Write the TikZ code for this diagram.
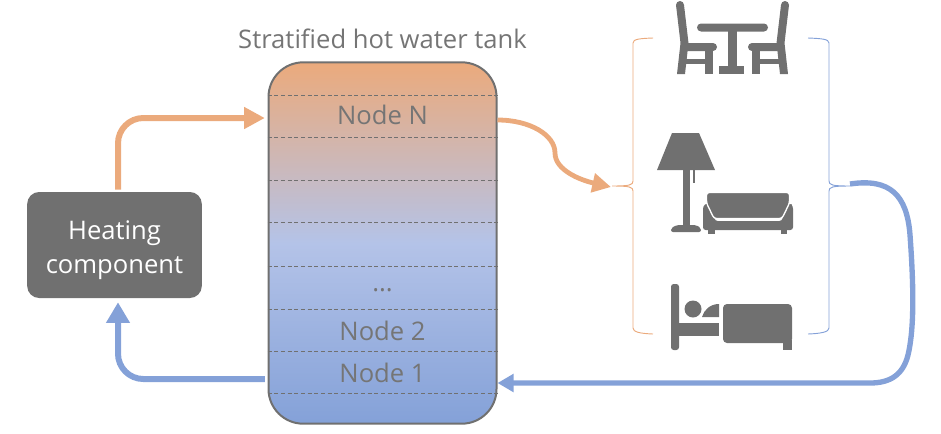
\documentclass[tikz,border=0pt]{standalone}
\usepackage{fontspec}
\setmainfont{Open Sans}
\usepackage{xcolor}
\usetikzlibrary{shapes, arrows, arrows.meta, calc}
\definecolor{hotcol}{HTML}{EBAA7C}
\definecolor{coldcol}{HTML}{84A1D8}
\definecolor{midcol}{HTML}{B4C3E8}
\definecolor{iconcol}{HTML}{707070}
\definecolor{textcol}{HTML}{757575}
\tikzstyle{heaterbox} = [rectangle, fill=iconcol, text=white, rounded corners=9pt,
    minimum width=131pt, minimum height=79.5pt, align=center, font=\fontsize{19.2}{26}\selectfont]
\tikzstyle{tankbox} = [rectangle, draw=iconcol, line width=1.5pt, rounded corners=26pt,
    minimum width=171pt, minimum height=271pt, top color=hotcol, bottom color=coldcol,
    middle color=midcol]
\tikzstyle{tanktext} = [text=textcol, font=\fontsize{19.2}{22}\selectfont]
\tikzstyle{layerline} = [draw=iconcol, densely dashed, line width=0.4pt]
\tikzstyle{hotline} = [draw=hotcol, line width=4.5pt, rounded corners=19pt]
\tikzstyle{coldline} = [draw=coldcol, line width=4.5pt, rounded corners=19pt]
\tikzstyle{icon} = [fill=iconcol, draw=none]

\begin{document}
\begin{tikzpicture}[x=0.75pt, y=-0.75pt, node distance = 31.5pt]
    \useasboundingbox (0,0) rectangle (941,433);

    \node [heaterbox, text depth=0pt] (heater) at (114.5,245) {\raisebox{-3pt}{Heating}\\\raisebox{-3pt}{component}};
    \node [tankbox] (tank) at (382.5,243) {};
    \node [tanktext, above of=tank, node distance=153.5pt] (title) {Stratified hot water tank};

    \foreach \y in {95,137,180,222,266,309,351,393}
        \draw[layerline] (tank.west |- 0,\y) -- (tank.east |- 0,\y);

    \node [tanktext] (node1) at (382.5,373) {Node 1};
    \node [tanktext, above of=node1] (node2) {Node 2};
    \node [tanktext, above of=node2, yshift=-1pt] (dots) {...};
    \node [tanktext] (nodeN) at (382.5,115) {Node N};

    % room icons
    \fill[icon, rounded corners=3pt] (697,23.5) rectangle (768,31.5);
    \fill[icon] (728,27) rectangle (737,68);
    \fill[icon] (719,66) rectangle (744,74);
    \foreach \sx/\ox in {1/0,-1/1465} {
        \begin{scope}[xshift=\ox*0.75pt, xscale=\sx]
            \fill[icon] (680,5) circle (4);
            \fill[icon] (676,5) -- (684,5) -- (688.5,43) -- (685,74) -- (677,74) -- (680.5,43) -- cycle;
            \fill[icon] (686,59) rectangle (705,64);
            \fill[icon] (705,47) rectangle (713,74);
            \fill[icon, rounded corners=3pt] (684,43) rectangle (717,51);
        \end{scope}
    }

    \fill[icon] (672,133) -- (699,133) -- (715,170) -- (657,170) -- cycle;
    \fill[icon] (683,170) rectangle (690,227);
    \fill[icon] (693,170) rectangle (695,183);
    \fill[icon, rounded corners=1.5pt] (671,232) -- (671,228) -- (677,225) -- (696,225) -- (701,228) -- (701,232) -- cycle;

    \fill[icon, rounded corners=2pt] (703,230) -- (703,206) -- (707,203) -- (712,206) -- (715,221) -- (782,221) -- (785,206) -- (790,203) -- (793,206) -- (793,230) -- cycle;
    \filldraw[icon, draw=white, line width=1pt, rounded corners=2pt] (706.5,192.5) -- (789.5,192.5) -- (789.5,203) -- (782,218.5) -- (714,218.5) -- (706.5,203) -- cycle;
    \fill[icon] (708,229) rectangle (715,234);
    \fill[icon] (781,229) rectangle (787,234);

    \fill[icon, rounded corners=2pt] (671,350) -- (671,284) -- (679,284) -- (679,350) -- cycle;
    \fill[icon] (678,323) rectangle (719,336);
    \fill[icon] (693,309) circle (8.5);
    \fill[icon] (702,317) .. controls (704,310) and (710,304) .. (719,304) -- (719,317) -- cycle;
    \fill[icon, rounded corners=3pt] (723,304) -- (792,304) -- (792,343) -- (723,343) -- cycle;
    \fill[icon] (783,340) rectangle (792,350);

    % braces
    \draw[hotcol, line width=0.7pt] (653,38) .. controls (640,38.5) and (633,39) .. (633,43) -- (633,181) .. controls (633,185) and (630,186) .. (612,186) .. controls (630,186) and (633,187) .. (633,191) -- (633,328) .. controls (633,332) and (640,333.5) .. (653,334);
    \draw[coldcol, line width=0.7pt] (808,38) .. controls (821,38.5) and (829,39) .. (829,43) -- (829,181) .. controls (829,185) and (832,186) .. (850,186) .. controls (832,186) and (829,187) .. (829,191) -- (829,328) .. controls (829,332) and (821,333.5) .. (808,334);

    % flows
    \coordinate (heaterOut) at ($(heater.north)+(3.5,-2)$);
    \coordinate (heaterIn) at ($(heater.south)+(3.5,4)$);
    \coordinate (tankIn) at (tank.west |- 0,118);
    \coordinate (tankOutCold) at (tank.west |- 0,379);
    \coordinate (tankOutHot) at (tank.east |- 0,120);
    \coordinate (tankInCold) at (tank.east |- 0,383);
    \coordinate (roomIn) at (611,187);
    \coordinate (roomOut) at (850,184);

    \draw[hotline, -{Triangle[length=15.5pt, width=15.5pt]}, shorten >=2pt] (heaterOut) |- (tankIn);
    \draw[coldline, -{Triangle[length=15.5pt, width=17pt]}, shorten <=2pt] (tankOutCold) -| (heaterIn);
    \draw[draw=hotcol, line width=3.6pt, -{Triangle[length=14pt, width=14pt]}] (tankOutHot) .. controls (530,120) and (555,135) .. (555,153) .. controls (555,170) and (580,180) .. (roomIn);
    \draw[draw=coldcol, line width=4pt, -{Triangle[length=12pt, width=13pt]}] (roomOut) .. controls (890,178) and (907,195) .. (910,235) .. controls (914,290) and (914,330) .. (908,355) .. controls (903,375) and (890,383) .. (870,383) -- (tankInCold);
\end{tikzpicture}
\end{document}
